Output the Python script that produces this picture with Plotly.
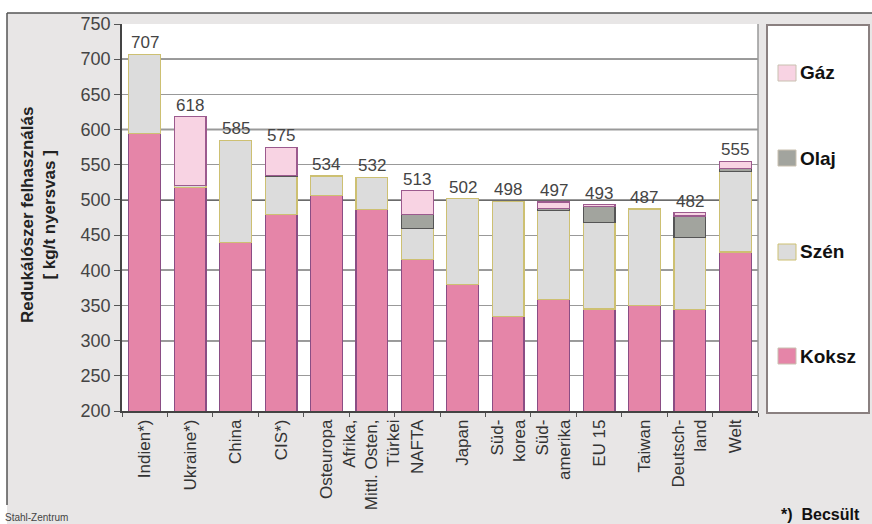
import plotly.graph_objects as go

categories = ["Indien*)", "Ukraine*)", "China", "CIS*)", "Osteuropa",
              "Afrika,<br>Mittl. Osten,<br>Türkei", "NAFTA", "Japan",
              "Süd-<br>korea", "Süd-<br>amerika", "EU 15", "Taiwan",
              "Deutsch-<br>land", "Welt"]
koksz = [594, 518, 440, 479, 506, 486, 415, 380, 334, 358, 345, 350, 344, 426]
szen  = [113, 2, 145, 54, 28, 46, 44, 122, 164, 127, 123, 137, 103, 114]
olaj  = [0, 0, 0, 2, 0, 0, 20, 0, 0, 3, 23, 0, 30, 5]
gaz   = [0, 98, 0, 40, 0, 0, 34, 0, 0, 9, 2, 0, 5, 10]
totals = [707, 618, 585, 575, 534, 532, 513, 502, 498, 497, 493, 487, 482, 555]
series_names = ["Koksz", "Szén", "Olaj", "Gáz"]
y_ticks = list(range(200, 751, 50))

W, H = 872, 524
L, R, T, B = 122, 114, 24, 113
PW, PH = W - L - R, H - T - B


def X(px):
    return (px - L) / PW


def Y(py):
    return (H - B - py) / PH


FONT = "Arial, Liberation Sans, sans-serif"
fills = {"Koksz": "#e585a8", "Szén": "#dcdcdc", "Olaj": "#a2a49e", "Gáz": "#f8d3e3"}
edges = {"Koksz": "#8a4d84", "Szén": "#cdc072", "Olaj": "#555555", "Gáz": "#9c5a8e"}


def nz(v):
    return [x if x else None for x in v]


fig = go.Figure()
for name, vals in zip(series_names, [koksz, szen, olaj, gaz]):
    fig.add_bar(x=categories, y=nz(vals), name=name,
                marker=dict(color=fills[name], line=dict(color=edges[name], width=1.2)),
                showlegend=False, hoverinfo="skip")

annotations = []
for c, t in zip(categories, totals):
    annotations.append(dict(x=c, y=t, xref="x", yref="y", text=str(t), showarrow=False,
                            yanchor="bottom", yshift=0,
                            font=dict(family=FONT, size=17, color="#444")))

# y-axis title
annotations.append(dict(x=X(38), y=Y(215), xref="paper", yref="paper",
                        text="<b>Redukálószer felhasználás<br>[ kg/t nyersvas ]</b>",
                        textangle=-90, showarrow=False, xanchor="center", yanchor="middle",
                        font=dict(family=FONT, size=17, color="#222")))

# legend (manual)
leg_items = [("Gáz", 73), ("Olaj", 158), ("Szén", 252), ("Koksz", 356)]
shapes = []
shapes.append(dict(type="rect", xref="paper", yref="paper", x0=X(0), x1=X(W), y0=Y(0), y1=Y(13),
                   fillcolor="white", line=dict(width=0), layer="below"))
shapes.append(dict(type="rect", xref="paper", yref="paper", x0=X(0), x1=X(7), y0=Y(0), y1=Y(H),
                   fillcolor="white", line=dict(width=0), layer="below"))
shapes.append(dict(type="line", xref="paper", yref="paper", x0=X(7), x1=X(W), y0=Y(13), y1=Y(13),
                   line=dict(color="#555", width=1.5)))
shapes.append(dict(type="line", xref="paper", yref="paper", x0=X(7), x1=X(7), y0=Y(13), y1=Y(505),
                   line=dict(color="#555", width=1.5)))
shapes.append(dict(type="rect", xref="paper", yref="paper", x0=X(767), x1=X(869), y0=Y(25), y1=Y(413),
                   fillcolor="white", line=dict(color="#8a8080", width=2)))
for name, py in leg_items:
    shapes.append(dict(type="rect", xref="paper", yref="paper", x0=X(778), x1=X(796),
                       y0=Y(py - 8), y1=Y(py + 8), fillcolor=fills[name],
                       line=dict(color=edges[name] if name == "Szén" else "#c9c0b0", width=1)))
    annotations.append(dict(x=X(798), y=Y(py), xref="paper", yref="paper", text=f"<b>{name}</b>",
                            showarrow=False, xanchor="left", yanchor="middle",
                            font=dict(family=FONT, size=19, color="#111")))
for v in y_ticks:
    if v % 100 == 0 and v > 200:
        shapes.append(dict(type="line", xref="paper", yref="y", x0=0, x1=1, y0=v, y1=v,
                           line=dict(color="#3a3a3a", width=1.5), layer="below"))
shapes.append(dict(type="line", xref="paper", yref="paper", x0=1, x1=1, y0=0, y1=1,
                   line=dict(color="#999", width=1.5)))

annotations.append(dict(x=X(3), y=Y(517), xref="paper", yref="paper", text="Stahl-Zentrum",
                        showarrow=False, xanchor="left", yanchor="middle",
                        font=dict(family=FONT, size=10, color="#444")))
annotations.append(dict(x=X(862), y=Y(514), xref="paper", yref="paper", text="<b>*)  Becsült</b>",
                        showarrow=False, xanchor="right", yanchor="middle",
                        font=dict(family=FONT, size=16, color="#111")))

fig.update_layout(
    width=W, height=H, margin=dict(l=L, r=R, t=T, b=B, pad=0),
    barmode="stack", bargap=0.3,
    paper_bgcolor="#e8e6e6", plot_bgcolor="white",
    font=dict(family=FONT, color="#444"),
    annotations=annotations, shapes=shapes,
    xaxis=dict(type="category", tickangle=-90, tickson="boundaries", ticks="outside",
               ticklen=4, tickcolor="#555", showline=True, linecolor="#444", linewidth=1.5,
               tickfont=dict(family=FONT, size=17, color="#333"), showgrid=False),
    yaxis=dict(range=[200, 750], tickvals=y_ticks, ticks="outside", ticklen=6, tickcolor="#555",
               showline=True, linecolor="#444", linewidth=1.5, gridcolor="#999", gridwidth=1.2,
               tickfont=dict(family=FONT, size=18, color="#444"), zeroline=False),
)

fig.write_html("out.html", config={"displayModeBar": False},
               post_script="document.body.style.margin='0';")
